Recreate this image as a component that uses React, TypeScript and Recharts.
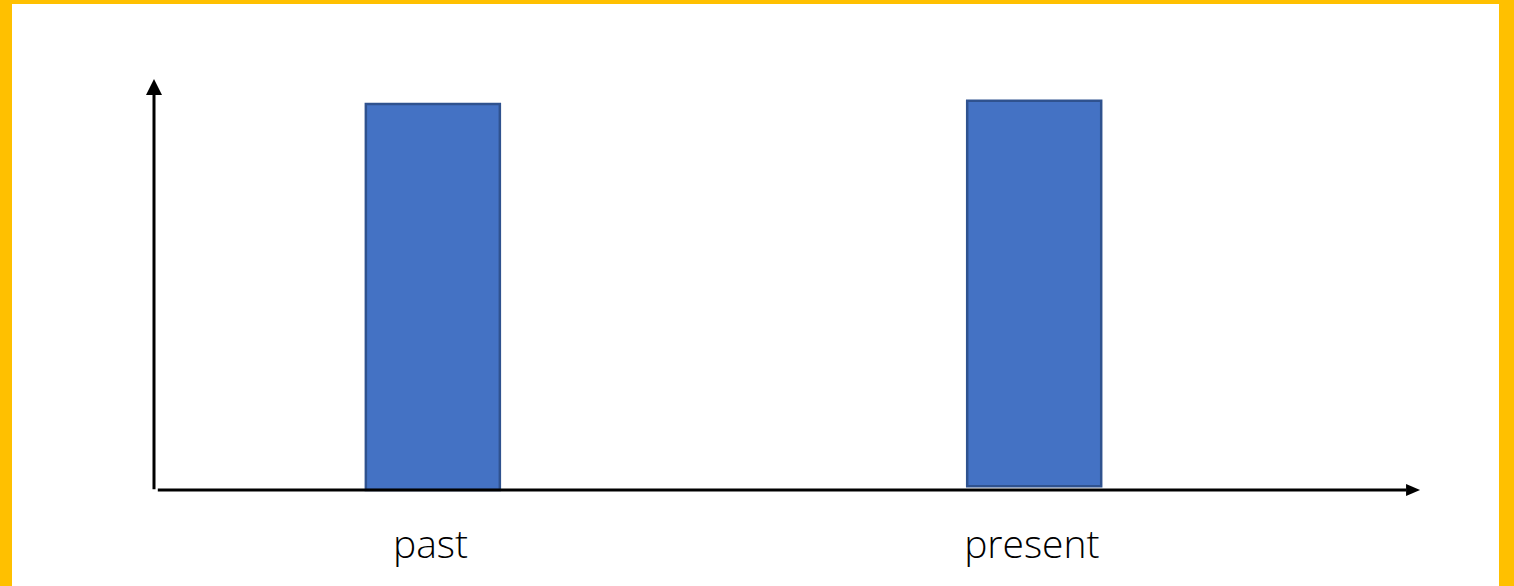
import { ComposedChart, Bar, XAxis, YAxis, ReferenceLine } from "recharts";

const WIDTH = 1514;
const HEIGHT = 586;
const FRAME = "#FFC000";
const BAR_FILL = "#4472C4";
const BAR_STROKE = "#2F528F";

// category labels, their x positions on a 0-100 axis, and each bar's [bottom, top]
const categories = ["past", "present"];
const positions = [22.0, 69.5];
const spans: [number, number][] = [
  [0, 93.9],
  [0.9, 94.7],
];

const data = categories.map((name, i) => ({ name, pos: positions[i], span: spans[i] }));

// axis line that finishes in a filled arrowhead
function ArrowLine(props: any) {
  const { x1, y1, x2, y2, head = 16, half = 8 } = props;
  const dx = x2 - x1;
  const dy = y2 - y1;
  const len = Math.hypot(dx, dy) || 1;
  const ux = dx / len;
  const uy = dy / len;
  const tipX = x2 + ux * head;
  const tipY = y2 + uy * head;
  const pts = [
    `${tipX},${tipY}`,
    `${x2 - uy * half},${y2 + ux * half}`,
    `${x2 + uy * half},${y2 - ux * half}`,
  ].join(" ");
  return (
    <g>
      <line x1={x1} y1={y1} x2={x2} y2={y2} stroke="#000" strokeWidth={3} />
      <polygon points={pts} fill="#000" />
    </g>
  );
}

function CategoryTick(props: any) {
  const { x, y, payload } = props;
  const label = categories[positions.indexOf(payload.value)] ?? "";
  return (
    <text
      x={x - 2}
      y={y}
      dy={68}
      textAnchor="middle"
      fill="#000"
      fontSize={39}
      fontWeight={300}
      fontFamily="'Segoe UI Light', 'Open Sans', 'Noto Sans', sans-serif"
    >
      {label}
    </text>
  );
}

export default function App() {
  return (
    <div style={{ position: "fixed", left: 0, top: 0, width: WIDTH, height: HEIGHT, background: FRAME }}>
      <div
        style={{
          position: "absolute",
          left: 12,
          top: 4,
          width: WIDTH - 12 - 15,
          height: HEIGHT - 4,
          background: "#fff",
        }}
      />
      <div style={{ position: "absolute", left: 0, top: 0 }}>
        <ComposedChart
          width={WIDTH}
          height={HEIGHT}
          data={data}
          margin={{ top: 79, right: 94, left: 154, bottom: 0 }}
        >
          <XAxis
            dataKey="pos"
            type="number"
            domain={[0, 100]}
            ticks={positions}
            height={96}
            axisLine={false}
            tickLine={false}
            tickSize={0}
            tickMargin={0}
            tick={<CategoryTick />}
            interval={0}
          />
          <YAxis hide domain={[0, 100]} type="number" />
          <Bar
            dataKey="span"
            barSize={134}
            fill={BAR_FILL}
            stroke={BAR_STROKE}
            strokeWidth={2.5}
            isAnimationActive={false}
          />
          <ReferenceLine
            segment={[
              { x: 0, y: 0.2 },
              { x: 0, y: 96.1 },
            ]}
            ifOverflow="visible"
            shape={(p: any) => <ArrowLine {...p} head={16} half={8} />}
          />
          <ReferenceLine
            segment={[
              { x: 0.3, y: 0 },
              { x: 98.9, y: 0 },
            ]}
            ifOverflow="visible"
            shape={(p: any) => <ArrowLine {...p} head={14} half={6} />}
          />
        </ComposedChart>
      </div>
    </div>
  );
}
